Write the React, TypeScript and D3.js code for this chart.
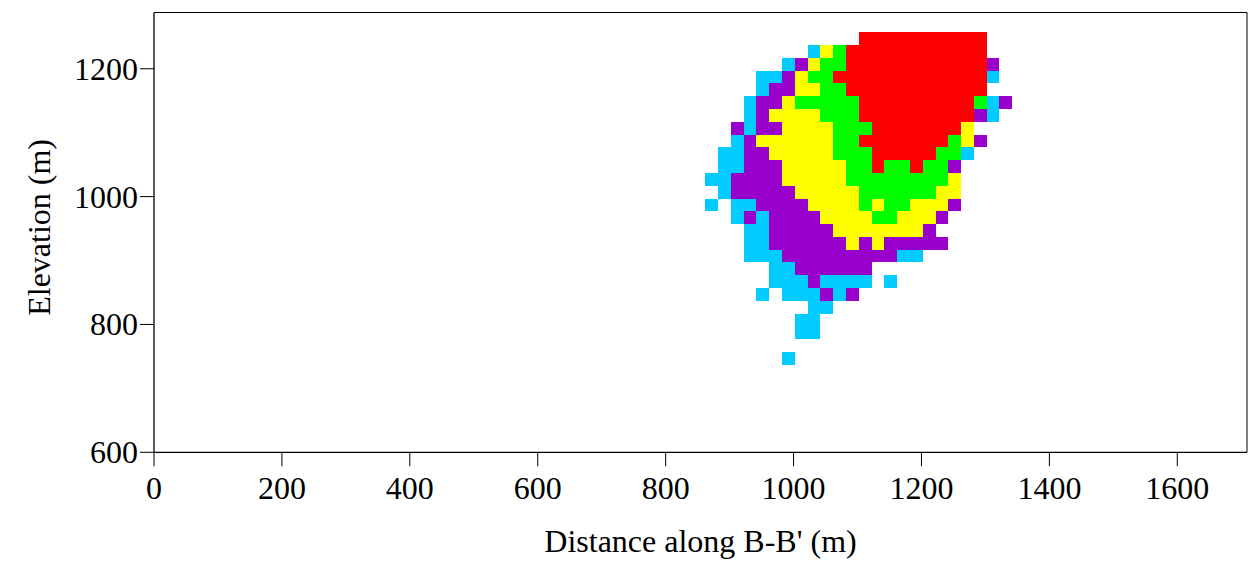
import React from "react";
import * as d3 from "d3";

// Column centres (distance along B-B', m) and row centres (elevation, m) of the block grid
const distances = [872, 892, 912, 932, 952, 972, 992, 1012, 1032, 1052, 1072, 1092, 1112, 1132, 1152, 1172, 1192, 1212, 1232, 1252, 1272, 1292, 1312, 1332];
const elevations = [1247, 1227, 1207, 1187, 1167, 1147, 1127, 1107, 1087, 1067, 1047, 1027, 1007, 987, 967, 947, 927, 907, 887, 867, 847, 827, 807, 787, 767, 747];

// Class codes per cell: c cyan, p purple, y yellow, g green, r red, . empty
const gridRows = [
  "............rrrrrrrrrr..",
  "........cygrrrrrrrrrrr..",
  "......cpyggrrrrrrrrrrrp.",
  "....ccpyggrrrrrrrrrrrrc.",
  "....cppyyggrrrrrrrrrrr..",
  "...cppygggggrrrrrrrrrgcp",
  "...cpyyyygggrrrrrrrrrpc.",
  "..pcppyyyygggrrrrrrry...",
  "..cpyyyyyyggrrrrrrrgyp..",
  ".ccppyyyyygggrrrrrggc...",
  ".ccpppyyyyyggrggrggp....",
  "ccppppyyyyyggggggggy....",
  ".cpppppyyyyyggggggyy....",
  "c.ccppppyyyygyggyyyp....",
  "..cpcppppyyyyggyyyp.....",
  "...ccpppppyyyyyyyp......",
  "...ccppppppypyppppp.....",
  "...cccpppppppppcc.......",
  ".....ccpppppp...........",
  ".....cccpcccc.c.........",
  "....c.cccpcp............",
  "........cc..............",
  ".......cc...............",
  ".......cc...............",
  "........................",
  "......c.................",
];

const classColors: Record<string, string> = {
  c: "#00CCFF",
  p: "#9900CC",
  y: "#FFFF00",
  g: "#00FF00",
  r: "#FF0000",
};

const xTicks = [0, 200, 400, 600, 800, 1000, 1200, 1400, 1600];
const yTicks = [600, 800, 1000, 1200];
const cellSize = 20;

const W = 1260;
const H = 564;
const left = 154;
const right = 1247;
const top = 12.5;
const bottom = 452.3;

export default function App() {
  const x = d3.scaleLinear().domain([0, 1709]).range([left, right]);
  const y = d3.scaleLinear().domain([600, 1288]).range([bottom, top]);

  const cells: { x: number; y: number; w: number; h: number; fill: string }[] = [];
  gridRows.forEach((row, j) => {
    const e = elevations[j];
    row.split("").forEach((code, i) => {
      if (code === ".") return;
      const dd = distances[i];
      const x0 = x(dd - cellSize / 2);
      const x1 = x(dd + cellSize / 2);
      const y0 = y(e + cellSize / 2);
      const y1 = y(e - cellSize / 2);
      cells.push({ x: x0, y: y0, w: x1 - x0, h: y1 - y0, fill: classColors[code] });
    });
  });

  const font = "'Liberation Serif', 'Times New Roman', serif";
  const fs = 32;
  const tick = 14;

  return (
    <svg width={W} height={H} style={{ position: "absolute", left: 0, top: 0, background: "#fff" }}>
      <rect x={0} y={0} width={W} height={H} fill="#fff" />
      <g shapeRendering="crispEdges">
        {cells.map((c, k) => (
          <rect key={k} x={c.x} y={c.y} width={c.w} height={c.h} fill={c.fill} />
        ))}
      </g>
      {/* frame */}
      <line x1={left} x2={right} y1={top} y2={top} stroke="#000" strokeWidth={1} />
      <line x1={right} x2={right} y1={top} y2={bottom} stroke="#000" strokeWidth={1} />
      <line x1={left} x2={left} y1={top} y2={bottom + tick * 0} stroke="#000" strokeWidth={1.3} />
      <line x1={left} x2={right} y1={bottom} y2={bottom} stroke="#000" strokeWidth={1.3} />
      {/* x ticks */}
      {xTicks.map((t) => (
        <g key={"x" + t}>
          <line x1={x(t)} x2={x(t)} y1={bottom} y2={bottom + tick} stroke="#000" strokeWidth={1} />
          <text x={x(t)} y={499} textAnchor="middle" fontFamily={font} fontSize={fs} fill="#000">
            {t}
          </text>
        </g>
      ))}
      {/* y ticks */}
      {yTicks.map((t) => (
        <g key={"y" + t}>
          <line x1={left - tick} x2={left} y1={y(t)} y2={y(t)} stroke="#000" strokeWidth={1} />
          <text x={left - tick - 2} y={y(t) + 11} textAnchor="end" fontFamily={font} fontSize={fs} fill="#000">
            {t}
          </text>
        </g>
      ))}
      <text x={(left + right) / 2} y={552} textAnchor="middle" fontFamily={font} fontSize={fs} fill="#000">
        Distance along B-B' (m)
      </text>
      <text
        transform={`translate(50, ${(top + bottom) / 2 - 5}) rotate(-90)`}
        textAnchor="middle"
        fontFamily={font}
        fontSize={fs}
        fill="#000"
      >
        Elevation (m)
      </text>
    </svg>
  );
}
